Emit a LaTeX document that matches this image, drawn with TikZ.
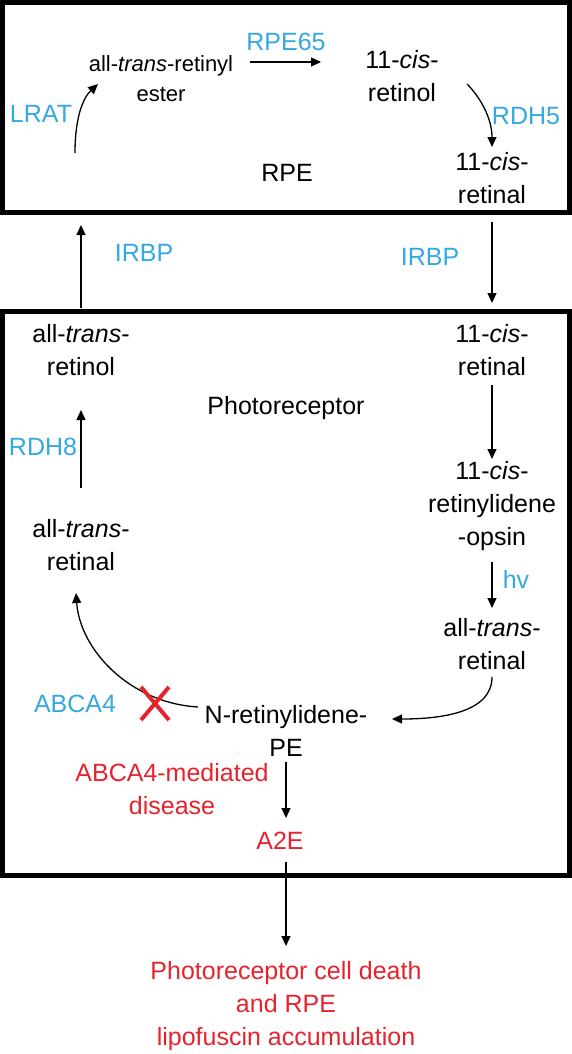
\documentclass[tikz,border=0pt]{standalone}
\usepackage{fontspec}
\setmainfont{Liberation Sans}
\usetikzlibrary{arrows.meta}
\definecolor{lblue}{RGB}{52,168,224}
\definecolor{dred}{RGB}{230,35,45}
\begin{document}
\begin{tikzpicture}[x=1pt,y=-1pt,
  txt/.style={font=\fontsize{25}{33}\selectfont, align=center, inner sep=0pt},
  lbl/.style={txt, text=lblue},
  rtxt/.style={txt, text=dred},
  arr/.style={-{Triangle[length=10pt,width=9pt]}, line width=1.3pt},
  cellbox/.style={draw, line width=5pt, inner sep=0pt}]
\useasboundingbox (0,0) rectangle (572,1054);
% compartments
\node[cellbox, minimum width=567pt, minimum height=210pt] (rpebox) at (286,107.5) {};
\node[cellbox, minimum width=567pt, minimum height=564pt] (prbox) at (286,593) {};
% RPE texts
\node[txt, font=\fontsize{22}{30}\selectfont] (ester) at (161,79) {all-\textit{trans}-retinyl\\ester};
\node[txt] (cisrol) at (402,76) {11-\textit{cis}-\\retinol};
\node[txt] (cisral1) at (492,178) {11-\textit{cis}-\\retinal};
\node[txt] (rpe) at (287,173) {RPE};
\node[lbl] (lrat) at (41,114) {LRAT};
\node[lbl] (rpe65) at (286,42) {RPE65};
\node[lbl] (rdh5) at (526,116) {RDH5};
% transport
\node[lbl] (irbp1) at (144,253) {IRBP};
\node[lbl] (irbp2) at (430,257) {IRBP};
% photoreceptor texts
\node[txt] (atrol) at (81,350.5) {all-\textit{trans}-\\retinol};
\node[txt] (cisral2) at (492,350) {11-\textit{cis}-\\retinal};
\node[txt] (photo) at (286,408) {Photoreceptor};
\node[lbl] (rdh8) at (43,447) {RDH8};
\node[txt] (opsin) at (492,506.5) {11-\textit{cis}-\\retinylidene\\-opsin};
\node[txt] (atral1) at (81,545.5) {all-\textit{trans}-\\retinal};
\node[lbl] (hv) at (516,579) {hv};
\node[txt] (atral2) at (492,644.5) {all-\textit{trans}-\\retinal};
\node[txt] (nrpe) at (286,730.5) {N-retinylidene-\\PE};
\node[lbl] (abca4) at (75,704) {ABCA4};
\node[rtxt] (disease) at (172,789.5) {ABCA4-mediated\\disease};
\node[rtxt] (a2e) at (280,841) {A2E};
\node[rtxt] (death) at (286,1006.5) {Photoreceptor cell death\\and RPE\\lipofuscin accumulation};
% connector end points
\coordinate (lratS) at (75,153);   \coordinate (lratE) at (98,84);
\coordinate (r65S) at (250,62);    \coordinate (r65E) at (321,62);
\coordinate (rdh5S) at (467,84);   \coordinate (rdh5E) at (492,147);
\coordinate (irbp1S) at (81,308);  \coordinate (irbp1E) at (81,225);
\coordinate (irbp2S) at (492,222); \coordinate (irbp2E) at (492,303);
\coordinate (rdh8S) at (81,488);   \coordinate (rdh8E) at (81,410);
\coordinate (c1S) at (492,385);    \coordinate (c1E) at (492,459);
\coordinate (hvS) at (492,562);    \coordinate (hvE) at (492,608);
\coordinate (c2S) at (492,677);    \coordinate (c2E) at (392,719);
\coordinate (c3S) at (198,707);    \coordinate (c3E) at (76,593);
\coordinate (c4S) at (286,762);    \coordinate (c4E) at (286,818);
\coordinate (c5S) at (286,862);    \coordinate (c5E) at (286,946);
% connectors
\draw[arr] (lratS) .. controls (75,115) and (84,97) .. (lratE);
\draw[arr] (r65S) -- (r65E);
\draw[arr] (rdh5S) .. controls (480,97) and (492,118) .. (rdh5E);
\draw[arr] (irbp1S) -- (irbp1E);
\draw[arr] (irbp2S) -- (irbp2E);
\draw[arr] (rdh8S) -- (rdh8E);
\draw[arr] (c1S) -- (c1E);
\draw[arr] (hvS) -- (hvE);
\draw[arr] (c2S) .. controls (492,713) and (440,719) .. (c2E);
\draw[arr] (c3S) .. controls (130,703) and (80,650) .. (c3E);
\draw[arr] (c4S) -- (c4E);
\draw[arr] (c5S) -- (c5E);
% red cross (blocked ABCA4 step)
\draw[dred, line width=4pt] (141,687) -- (169,720) (169,687) -- (141,720);
\end{tikzpicture}
\end{document}
